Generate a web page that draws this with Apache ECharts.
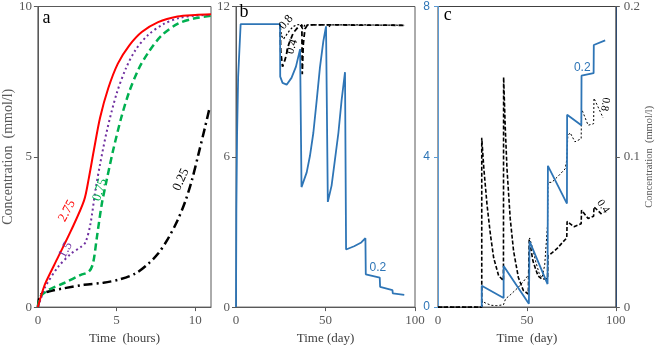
<!DOCTYPE html>
<html><head><meta charset="utf-8">
<script src="https://cdn.jsdelivr.net/npm/echarts@6/dist/echarts.min.js"></script>
<style>html,body{margin:0;padding:0;background:#fff}#c{width:656px;height:350px}</style>
</head><body><div id="c"></div>
<script>
// ---------- Panel a (hours vs mmol/l) ----------
const aRed275 = [[0,0],[0.25,0.45],[0.47,0.79],[1.29,1.67],[2.11,2.55],[2.93,3.54],[3.24,4.3],[3.55,5.2],[3.95,6.3],[4.47,7.28],[5.08,8.1],[5.8,8.7],[6.6,9.15],[7.64,9.48],[8.87,9.67],[10,9.72],[11,9.74]];
const aPurple15 = [[0,0],[0.2,0.3],[0.47,0.68],[1.29,1.34],[2.11,1.78],[2.73,2.0],[3.03,2.16],[3.34,2.77],[3.65,3.87],[3.95,4.75],[4.4,5.9],[5.0,7.1],[5.6,7.95],[6.2,8.55],[7.0,9.05],[8.0,9.42],[9.0,9.62],[10,9.7],[11,9.72]];
const aGreen075 = [[0,0],[0.16,0.35],[0.68,0.57],[1.7,0.81],[2.73,1.07],[3.24,1.18],[3.5,1.45],[3.75,2.33],[4.06,3.43],[4.36,4.2],[4.77,5.19],[5.29,6.29],[5.8,7.16],[6.41,7.93],[7.03,8.48],[7.85,9.03],[8.87,9.42],[9.9,9.6],[11,9.69]];
const aBlack025 = [[0,0],[0.16,0.4],[0.68,0.52],[1.7,0.63],[2.93,0.74],[4.16,0.81],[5.18,0.92],[6.2,1.12],[7.03,1.45],[7.64,1.78],[8.26,2.27],[8.87,2.88],[9.38,3.54],[9.8,4.25],[10.2,5.08],[10.61,5.96],[10.88,6.56]];
// ---------- Panel b (day vs mmol/l) ----------
const bBlue02 = [[0,0],[0.2,3.9],[0.6,6.9],[1.2,9.2],[2.6,11.3],[24.6,11.3],[24.7,9.2],[26,8.95],[28.3,8.88],[31,9.15],[33.5,9.6],[35.8,10.3],[36.4,10.3],[36.6,4.79],[37.6,4.85],[39.5,5.38],[41.3,6.03],[43.2,6.95],[45.1,8.26],[46.9,9.57],[48.8,10.62],[50.3,11.21],[51.1,11.28],[51.3,4.2],[53.4,4.85],[55.3,5.9],[57.2,6.95],[59.0,8.26],[60.9,9.38],[61.2,9.38],[61.5,2.3],[66,2.43],[70,2.58],[72.3,2.75],[72.5,1.31],[80.3,1.18],[80.5,0.81],[87.4,0.68],[87.6,0.55],[94,0.49]];
const bBlack08 = [[24.6,11.3],[25.3,10.85],[26.5,10.7],[28,10.85],[30,11.05],[32,11.2],[34,11.27],[36.8,11.28],[37.2,11.1],[38.5,11.27],[51.5,11.27],[51.8,11.18],[53,11.27],[61.7,11.27],[62,11.2],[63,11.27],[94,11.25]];
const bBlack04 = [[24.6,11.3],[25,10.2],[26,9.6],[27.5,9.9],[29.5,10.5],[32,10.95],[35,11.2],[36.8,11.25],[37,9.3],[37.6,10.5],[38.5,11.1],[40,11.27],[94,11.25]];
// ---------- Panel c (day vs mmol/l) ----------
const cBlue02 = [[24.6,0],[24.6,0.0142],[36.9,0.0061],[36.9,0.0273],[51.1,0.0022],[51.5,0.0437],[61.6,0.0153],[61.8,0.094],[72.5,0.0689],[72.6,0.128],[80.6,0.121],[80.7,0.154],[87.5,0.1556],[87.6,0.1744],[94,0.1775]];
const cBlack04 = [[0,0],[24.6,0],[24.6,0.1126],[25.8,0.0918],[27.6,0.0677],[29.5,0.048],[31.3,0.0328],[34.1,0.0208],[36.8,0.0177],[36.9,0.153],[37.8,0.12],[38.8,0.0918],[40.6,0.059],[42.5,0.0372],[45.2,0.0197],[48,0.011],[50.8,0.0087],[51.3,0.045],[53.4,0.0306],[56.2,0.0208],[58.5,0.0186],[61.6,0.019],[61.8,0.034],[64,0.036],[67,0.039],[70,0.043],[72.4,0.046],[72.6,0.057],[76.5,0.0535],[80.5,0.0555],[80.7,0.0645],[84.4,0.059],[87.5,0.0605],[87.7,0.0667],[92.5,0.0612]];
const cBlack08 = [[0,0],[24.6,0],[24.8,0.004],[27,0.0025],[30,0.0012],[33,0.001],[36.8,0.0015],[38,0.0055],[41,0.0085],[45,0.013],[48,0.017],[51.2,0.022],[51.5,0.046],[53,0.04],[55,0.03],[57,0.022],[58.5,0.0195],[60,0.028],[61.6,0.055],[61.8,0.083],[64,0.083],[67.8,0.0874],[71.5,0.092],[72.4,0.098],[73,0.114],[74.3,0.116],[77,0.11],[80.5,0.112],[80.7,0.132],[84.4,0.121],[87.5,0.122],[87.7,0.139],[92.8,0.126]];
// ---------- tick labels ----------
const aXTicks = [0,5,10];
const bcXTicks = [0,50,100];

const SERIF = 'Liberation Serif';
const SANS = 'Liberation Sans';
const GREY = '#595959';
const BLUE = '#2E75B6';

function xAx(grid, max, ticks, name){
  return {gridIndex:grid, type:'value', min:0, max:max,
    axisLine:{show:true, lineStyle:{color:GREY, width:1}},
    axisTick:{show:true, length:4, customValues:ticks.slice(1), lineStyle:{color:GREY}},
    axisLabel:{customValues:ticks, margin:7, color:GREY, fontFamily:SERIF, fontSize:13},
    splitLine:{show:false},
    name:name, nameLocation:'middle', nameGap:21,
    nameTextStyle:{color:'#404040', fontFamily:SERIF, fontSize:13}};
}
function yAx(grid, max, interval, pos, extra){
  return Object.assign({gridIndex:grid, type:'value', min:0, max:max, interval:interval, position:pos,
    axisLine:{show:true, lineStyle:{color:GREY, width:1}},
    axisTick:{show:true, length:4, lineStyle:{color:GREY}},
    axisLabel:{margin:6, color:GREY, fontFamily:SERIF, fontSize:13},
    splitLine:{show:false}}, extra||{});
}

const chart = echarts.init(document.getElementById('c'));
const option = {
  animation:false,
  backgroundColor:'#fff',
  grid:[
    {left:32, top:5, width:179, height:306, show:true, borderColor:GREY, borderWidth:1, backgroundColor:'transparent'},
    {left:236, top:5, width:179, height:305, show:true, borderColor:GREY, borderWidth:1, backgroundColor:'transparent'},
    {left:438, top:5, width:180, height:305, show:true, borderColor:'#404040', borderWidth:1, backgroundColor:'transparent'}
  ],
  xAxis:[
    xAx(0, 11, aXTicks, 'Time  (hours)'),
    xAx(1, 100, bcXTicks, 'Time (day)'),
    xAx(2, 100, bcXTicks, 'Time  (day)')
  ],
  yAxis:[
    yAx(0, 10, 5, 'left', {name:'Concentration  (mmol/l)', nameLocation:'middle', nameGap:17, nameRotate:90,
      nameTextStyle:{color:GREY, fontFamily:SERIF, fontSize:14}}),
    yAx(1, 12, 6, 'left'),
    yAx(2, 8, 4, 'left', {axisLine:{show:true, lineStyle:{color:'#5B9BD5', width:1}},
      axisTick:{show:true, length:4, lineStyle:{color:'#5B9BD5'}},
      axisLabel:{margin:8, color:BLUE, fontFamily:SANS, fontSize:12}}),
    yAx(2, 0.2, 0.1, 'right', {axisLine:{show:true, lineStyle:{color:'#2F4A6F', width:1}},
      axisLabel:{margin:8, color:GREY, fontFamily:SERIF, fontSize:13},
      name:'Concentration  (mmol/l)', nameLocation:'middle', nameGap:22, nameRotate:90,
      nameTextStyle:{color:GREY, fontFamily:SERIF, fontSize:10.5}})
  ],
  series:[
    {type:'line', xAxisIndex:0, yAxisIndex:0, data:aBlack025, symbol:'none', smooth:0.3, lineStyle:{color:'#000', width:2.5, type:[9,4,2,4]}},
    {type:'line', xAxisIndex:0, yAxisIndex:0, data:aGreen075, symbol:'none', smooth:0.3, lineStyle:{color:'#00B050', width:2.5, type:[7,4]}},
    {type:'line', xAxisIndex:0, yAxisIndex:0, data:aPurple15, symbol:'none', smooth:0.3, lineStyle:{color:'#7030A0', width:2, type:[2,3]}},
    {type:'line', xAxisIndex:0, yAxisIndex:0, data:aRed275, symbol:'none', smooth:0.3, lineStyle:{color:'#FF0000', width:2}},
    {type:'line', xAxisIndex:1, yAxisIndex:1, data:bBlack08, symbol:'none', lineStyle:{color:'#000', width:1.2, type:[2,2]}},
    {type:'line', xAxisIndex:1, yAxisIndex:1, data:bBlack04, symbol:'none', lineStyle:{color:'#000', width:1.8, type:[5,3]}},
    {type:'line', xAxisIndex:1, yAxisIndex:1, data:bBlue02, symbol:'none', lineStyle:{color:BLUE, width:1.8}},
    {type:'line', xAxisIndex:2, yAxisIndex:3, data:cBlack08, symbol:'none', lineStyle:{color:'#000', width:1, type:[2,2]}},
    {type:'line', xAxisIndex:2, yAxisIndex:3, data:cBlack04, symbol:'none', lineStyle:{color:'#000', width:1.6, type:[4,2]}},
    {type:'line', xAxisIndex:2, yAxisIndex:3, data:cBlue02, symbol:'none', lineStyle:{color:BLUE, width:1.8}}
  ]
};
chart.setOption(option);

// annotations: [text, xAxisIndex, yAxisIndex, dataCoord, rotationDeg, color, family, size]
const notes = [
  ['2.75', 0, 0, [1.85,3.2], 62, '#FF0000', SERIF, 13],
  ['1.5', 0, 0, [1.75,1.9], 62, '#7030A0', SERIF, 13],
  ['0.75', 0, 0, [3.95,3.9], 72, '#00B050', SERIF, 13],
  ['0.25', 0, 0, [9.1,4.24], 66, '#000', SERIF, 13],
  ['a', 0, 0, [0.55,9.6], 0, '#000', SERIF, 18],
  ['0.8', 1, 1, [28,11.37], 50, '#000', SERIF, 12],
  ['0.4', 1, 1, [31.3,10.4], 72, '#000', SERIF, 12],
  ['0.2', 1, 1, [79.3,1.57], 0, BLUE, SANS, 12],
  ['b', 1, 1, [4.5,11.75], 0, '#000', SERIF, 18],
  ['0.2', 2, 3, [81.1,0.1593], 0, BLUE, SANS, 12],
  ['0.8', 2, 3, [93.9,0.135], -100, '#000', SERIF, 11],
  ['0.4', 2, 3, [92.8,0.0669], -55, '#000', SERIF, 11],
  ['c', 2, 3, [5.5,0.194], 0, '#000', SERIF, 18]
];
const graphic = notes.map(n => {
  const p = chart.convertToPixel({xAxisIndex:n[1], yAxisIndex:n[2]}, n[3]);
  return {type:'text', x:p[0], y:p[1], rotation:n[4]*Math.PI/180, z:100,
    style:{text:n[0], fill:n[5], font:n[7]+'px "'+n[6]+'"', align:'center', verticalAlign:'middle'}};
});
chart.setOption({graphic:graphic});
</script></body></html>
